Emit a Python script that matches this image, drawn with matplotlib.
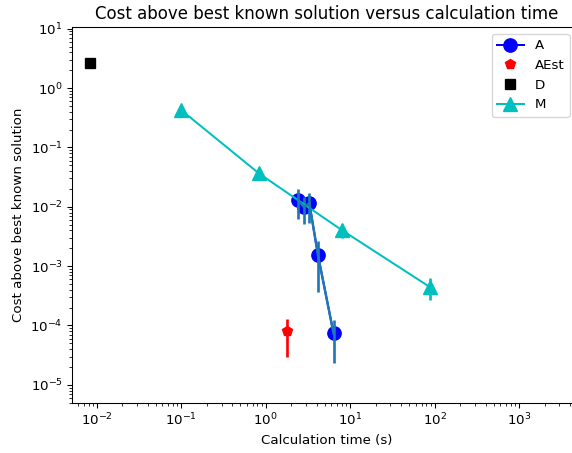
import matplotlib
matplotlib.use('Agg')
import matplotlib.pyplot as plt

# calculation time (s) and cost above best known solution
a_time = [2.42, 2.82, 3.29, 4.16, 6.36]
a_cost = [0.0130, 0.0100, 0.0114, 0.00153, 7.35e-5]
a_err = [0.0068, 0.0048, 0.0060, 0.00116, 5.0e-5]

aest_time = [1.77]
aest_cost = [8.0e-5]
aest_err = [5.0e-5]

d_time = [8.3e-3]
d_cost = [2.6]

m_time = [0.1, 0.83, 7.96, 87.0]
m_cost = [0.426, 0.0366, 0.00405, 4.48e-4]
m_err = [0.0, 0.004, 0.0011, 1.8e-4]

xticks = [1e-2, 1e-1, 1e0, 1e1, 1e2, 1e3]
yticks = [1e-5, 1e-4, 1e-3, 1e-2, 1e-1, 1e0, 1e1]

fig = plt.figure(figsize=(572 / 96, 453 / 96), dpi=96)
# axes runs a bit past the right edge, the picture is cropped there
ax = fig.add_axes([72 / 572, 0.111, 509.7 / 572, 0.830])

hA, = ax.plot(a_time, a_cost, 'bo-', markersize=10, label='A')
ax.errorbar(a_time, a_cost, yerr=a_err, color='C0', linewidth=1.8, elinewidth=2)

hAE, = ax.plot(aest_time, aest_cost, 'rp', markersize=8, label='AEst', zorder=3)
ax.errorbar(aest_time, aest_cost, yerr=aest_err, fmt='none', ecolor='r', elinewidth=2)

hD, = ax.plot(d_time, d_cost, 'ks', markersize=8, label='D')

hM, = ax.plot(m_time, m_cost, 'c^-', markersize=10, label='M')
ax.errorbar(m_time, m_cost, yerr=m_err, fmt='none', ecolor='c', elinewidth=2)

ax.set_xscale('log')
ax.set_yscale('log')
ax.set_xticks(xticks)
ax.set_yticks(yticks)
ax.set_xlim(5.1e-3, 5.5e3)
ax.set_ylim(5e-6, 10.8)
ax.set_title('Cost above best known solution versus calculation time', fontsize=12.5)
ax.set_xlabel('Calculation time (s)')
ax.set_ylabel('Cost above best known solution')
ax.legend(handles=[hA, hAE, hD, hM], loc='upper right', borderaxespad=0,
          bbox_to_anchor=(569.5 / 572, 1 - 34 / 453), bbox_transform=fig.transFigure)

fig.savefig('out.png', dpi=96)
